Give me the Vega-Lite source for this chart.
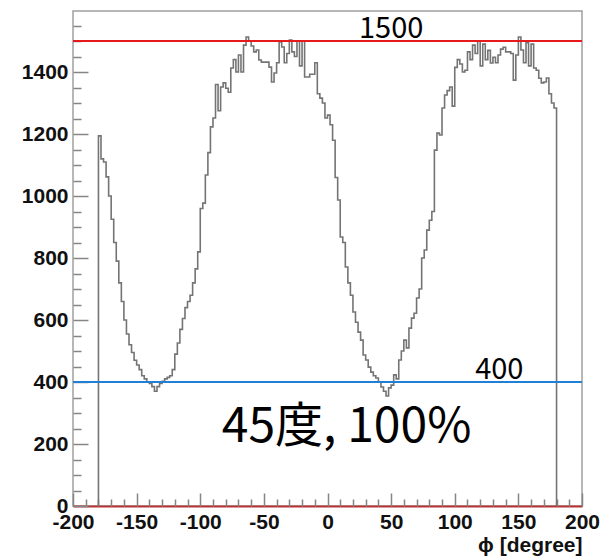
{
  "$schema": "https://vega.github.io/schema/vega-lite/v6.json",
  "width": 509,
  "height": 495,
  "autosize": "none",
  "padding": {"left": 73, "top": 11, "right": 20, "bottom": 50},
  "background": "white",
  "config": {
    "view": {"stroke": "#a0a0a0", "strokeWidth": 1.5},
    "axis": {
      "grid": false,
      "labelFont": "Liberation Sans",
      "labelFontWeight": "bold",
      "labelFontSize": 21,
      "labelColor": "#111111",
      "labelOverlap": false,
      "labelFlush": false,
      "titleFont": "Liberation Sans",
      "titleFontWeight": "bold",
      "titleFontSize": 21,
      "titleColor": "#111111",
      "tickColor": "#858585",
      "tickWidth": 1.5
    }
  },
  "datasets": {
    "hist": [
      {"phi": -180, "n": 0},
      {"phi": -180, "n": 1194}, {"phi": -178, "n": 1120}, {"phi": -176, "n": 1110}, {"phi": -174, "n": 1062},
      {"phi": -172, "n": 1000}, {"phi": -170, "n": 925}, {"phi": -168, "n": 850}, {"phi": -166, "n": 790},
      {"phi": -164, "n": 720}, {"phi": -162, "n": 660}, {"phi": -160, "n": 600}, {"phi": -158, "n": 555},
      {"phi": -156, "n": 520}, {"phi": -154, "n": 495}, {"phi": -152, "n": 470}, {"phi": -150, "n": 455},
      {"phi": -148, "n": 440}, {"phi": -146, "n": 420}, {"phi": -144, "n": 410}, {"phi": -142, "n": 400},
      {"phi": -140, "n": 395}, {"phi": -138, "n": 385}, {"phi": -136, "n": 370}, {"phi": -134, "n": 385},
      {"phi": -132, "n": 395}, {"phi": -130, "n": 402}, {"phi": -128, "n": 410}, {"phi": -126, "n": 415},
      {"phi": -124, "n": 420}, {"phi": -122, "n": 440}, {"phi": -120, "n": 490}, {"phi": -118, "n": 526},
      {"phi": -116, "n": 570}, {"phi": -114, "n": 605}, {"phi": -112, "n": 640}, {"phi": -110, "n": 660},
      {"phi": -108, "n": 680}, {"phi": -106, "n": 720}, {"phi": -104, "n": 765}, {"phi": -102, "n": 820},
      {"phi": -100, "n": 960}, {"phi": -98, "n": 977}, {"phi": -96, "n": 1068}, {"phi": -94, "n": 1140},
      {"phi": -92, "n": 1223}, {"phi": -90, "n": 1252}, {"phi": -88, "n": 1360}, {"phi": -86, "n": 1275},
      {"phi": -84, "n": 1352}, {"phi": -82, "n": 1365}, {"phi": -80, "n": 1348}, {"phi": -78, "n": 1335},
      {"phi": -76, "n": 1413}, {"phi": -74, "n": 1440}, {"phi": -72, "n": 1400}, {"phi": -70, "n": 1455},
      {"phi": -68, "n": 1400}, {"phi": -66, "n": 1487}, {"phi": -64, "n": 1513}, {"phi": -62, "n": 1500},
      {"phi": -60, "n": 1484}, {"phi": -58, "n": 1465}, {"phi": -56, "n": 1471}, {"phi": -54, "n": 1439},
      {"phi": -52, "n": 1432}, {"phi": -50, "n": 1432}, {"phi": -48, "n": 1432}, {"phi": -46, "n": 1416},
      {"phi": -44, "n": 1368}, {"phi": -42, "n": 1397}, {"phi": -40, "n": 1430}, {"phi": -38, "n": 1497},
      {"phi": -36, "n": 1481}, {"phi": -34, "n": 1430}, {"phi": -32, "n": 1460}, {"phi": -30, "n": 1503},
      {"phi": -28, "n": 1465}, {"phi": -26, "n": 1450}, {"phi": -24, "n": 1500}, {"phi": -22, "n": 1420},
      {"phi": -20, "n": 1500}, {"phi": -18, "n": 1384}, {"phi": -16, "n": 1384}, {"phi": -14, "n": 1393},
      {"phi": -12, "n": 1393}, {"phi": -10, "n": 1430}, {"phi": -8, "n": 1330}, {"phi": -6, "n": 1316},
      {"phi": -4, "n": 1300}, {"phi": -2, "n": 1252}, {"phi": 0, "n": 1261}, {"phi": 2, "n": 1230},
      {"phi": 4, "n": 1180}, {"phi": 6, "n": 1060}, {"phi": 8, "n": 987}, {"phi": 10, "n": 868},
      {"phi": 12, "n": 850}, {"phi": 14, "n": 771}, {"phi": 16, "n": 720}, {"phi": 18, "n": 680},
      {"phi": 20, "n": 626}, {"phi": 22, "n": 593}, {"phi": 24, "n": 561}, {"phi": 26, "n": 535},
      {"phi": 28, "n": 487}, {"phi": 30, "n": 471}, {"phi": 32, "n": 448}, {"phi": 34, "n": 432},
      {"phi": 36, "n": 420}, {"phi": 38, "n": 413}, {"phi": 40, "n": 400}, {"phi": 42, "n": 384},
      {"phi": 44, "n": 370}, {"phi": 46, "n": 355}, {"phi": 48, "n": 381}, {"phi": 50, "n": 390},
      {"phi": 52, "n": 423}, {"phi": 54, "n": 410}, {"phi": 56, "n": 471}, {"phi": 58, "n": 500},
      {"phi": 60, "n": 535}, {"phi": 62, "n": 510}, {"phi": 64, "n": 574}, {"phi": 66, "n": 606},
      {"phi": 68, "n": 622}, {"phi": 70, "n": 671}, {"phi": 72, "n": 700}, {"phi": 74, "n": 800},
      {"phi": 76, "n": 826}, {"phi": 78, "n": 890}, {"phi": 80, "n": 922}, {"phi": 82, "n": 950},
      {"phi": 84, "n": 1148}, {"phi": 86, "n": 1203}, {"phi": 88, "n": 1197}, {"phi": 90, "n": 1284},
      {"phi": 92, "n": 1326}, {"phi": 94, "n": 1340}, {"phi": 96, "n": 1352}, {"phi": 98, "n": 1290},
      {"phi": 100, "n": 1415}, {"phi": 102, "n": 1440}, {"phi": 104, "n": 1426}, {"phi": 106, "n": 1400},
      {"phi": 108, "n": 1406}, {"phi": 110, "n": 1465}, {"phi": 112, "n": 1440}, {"phi": 114, "n": 1487},
      {"phi": 116, "n": 1460}, {"phi": 118, "n": 1500}, {"phi": 120, "n": 1420}, {"phi": 122, "n": 1490},
      {"phi": 124, "n": 1440}, {"phi": 126, "n": 1470}, {"phi": 128, "n": 1429}, {"phi": 130, "n": 1448},
      {"phi": 132, "n": 1430}, {"phi": 134, "n": 1455}, {"phi": 136, "n": 1474}, {"phi": 138, "n": 1480},
      {"phi": 140, "n": 1465}, {"phi": 142, "n": 1465}, {"phi": 144, "n": 1460}, {"phi": 146, "n": 1374},
      {"phi": 148, "n": 1455}, {"phi": 150, "n": 1513}, {"phi": 152, "n": 1471}, {"phi": 154, "n": 1430},
      {"phi": 156, "n": 1495}, {"phi": 158, "n": 1420}, {"phi": 160, "n": 1490}, {"phi": 162, "n": 1413},
      {"phi": 164, "n": 1406}, {"phi": 166, "n": 1380}, {"phi": 168, "n": 1365}, {"phi": 170, "n": 1368},
      {"phi": 172, "n": 1381}, {"phi": 174, "n": 1330}, {"phi": 176, "n": 1300}, {"phi": 178, "n": 1284},
      {"phi": 180, "n": 0}
    ],
    "refs": [
      {"v": 1500, "label": "1500", "at": 50, "color": "#e8191c"},
      {"v": 400, "label": "400", "at": 135, "color": "#1f80d6"}
    ],
    "notes": [
      {"phi": 15, "n": 205, "text": "45度, 100%"}
    ]
  },
  "layer": [
    {
      "data": {"name": "hist"},
      "mark": {"type": "line", "interpolate": "step-after", "color": "#747474", "strokeWidth": 1.6},
      "encoding": {
        "x": {
          "field": "phi", "type": "quantitative",
          "scale": {"domain": [-200, 200], "nice": false, "zero": false},
          "axis": {
            "orient": "bottom",
            "values": [-200, -150, -100, -50, 0, 50, 100, 150, 200],
            "labelExpr": "'' + datum.value",
            "ticks": false, "domain": true, "domainColor": "#b83434", "domainWidth": 2,
            "labelPadding": 5,
            "title": "ϕ [degree]", "titleAnchor": "end", "titlePadding": 2
          }
        },
        "y": {
          "field": "n", "type": "quantitative",
          "scale": {"domain": [0, 1597], "nice": false},
          "axis": {
            "orient": "left",
            "values": [0, 200, 400, 600, 800, 1000, 1200, 1400],
            "labelExpr": "'' + datum.value",
            "ticks": false, "domain": false, "labelPadding": 5, "title": null
          }
        },
        "order": {"value": null}
      }
    },
    {
      "data": {"name": "refs"},
      "mark": {"type": "rule", "strokeWidth": 2},
      "encoding": {
        "y": {
          "field": "v", "type": "quantitative",
          "axis": {
            "orient": "left",
            "values": [0, 200, 400, 600, 800, 1000, 1200, 1400],
            "labels": false, "domain": false, "tickSize": -15, "title": null
          }
        },
        "color": {"field": "color", "type": "nominal", "scale": null}
      }
    },
    {
      "mark": {"type": "rule", "color": "#c23838", "strokeWidth": 2},
      "encoding": {
        "x": {
          "datum": 200, "type": "quantitative",
          "axis": {
            "orient": "bottom",
            "values": [-200, -150, -100, -50, 0, 50, 100, 150, 200],
            "labels": false, "domain": false, "tickSize": -13, "title": null
          }
        }
      }
    },
    {
      "data": {"name": "refs"},
      "mark": {"type": "text", "font": "Noto Sans CJK JP", "fontSize": 29, "baseline": "alphabetic", "align": "center", "dy": -3, "color": "#000000"},
      "encoding": {
        "x": {
          "field": "at", "type": "quantitative",
          "axis": {
            "orient": "bottom",
            "values": [-190, -180, -170, -160, -140, -130, -120, -110, -90, -80, -70, -60, -40, -30, -20, -10, 10, 20, 30, 40, 60, 70, 80, 90, 110, 120, 130, 140, 160, 170, 180, 190],
            "labels": false, "domain": false, "tickSize": -7, "title": null
          }
        },
        "y": {
          "field": "v", "type": "quantitative",
          "axis": {
            "orient": "left",
            "values": [50, 100, 150, 250, 300, 350, 450, 500, 550, 650, 700, 750, 850, 900, 950, 1050, 1100, 1150, 1250, 1300, 1350, 1450, 1500, 1550],
            "labels": false, "domain": false, "tickSize": -8, "title": null
          }
        },
        "text": {"field": "label"}
      }
    },
    {
      "data": {"name": "notes"},
      "mark": {"type": "text", "font": "Noto Sans CJK JP", "fontSize": 48, "baseline": "alphabetic", "align": "center", "color": "#000000"},
      "encoding": {
        "x": {"field": "phi", "type": "quantitative", "axis": null},
        "y": {"field": "n", "type": "quantitative", "axis": null},
        "text": {"field": "text"}
      }
    }
  ],
  "resolve": {"axis": {"x": "independent", "y": "independent"}}
}
